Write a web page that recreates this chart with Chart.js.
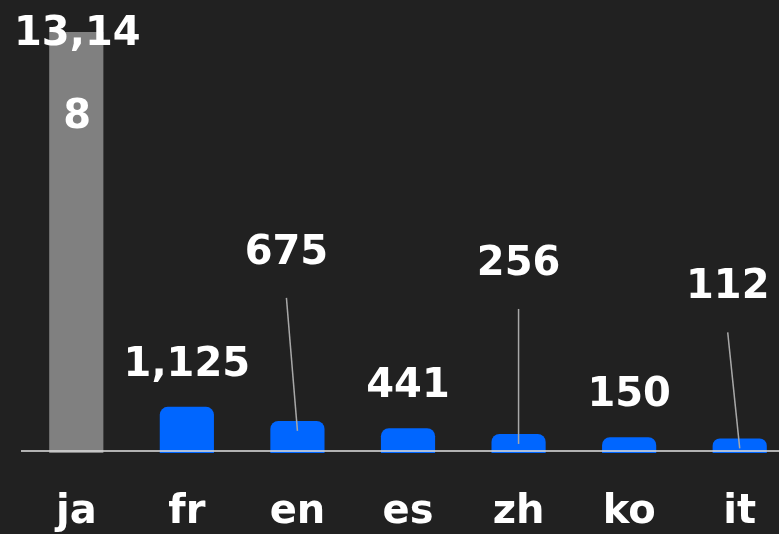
<!DOCTYPE html>
<html>
<head>
<meta charset="utf-8">
<script src="https://cdn.jsdelivr.net/npm/chart.js@4/dist/chart.umd.min.js"></script>
<style>
html,body{margin:0;padding:0;background:#212121;overflow:hidden;}
#wrap{position:relative;width:795px;height:534px;}
</style>
</head>
<body>
<div id="wrap"><canvas id="c"></canvas></div>
<script>
// ---- data ----
const categories = ['ja', 'fr', 'en', 'es', 'zh', 'ko', 'it'];
const values = [13148, 1125, 675, 441, 256, 150, 112];
const highlight = ['ja'];

// ---- label layout (styling, not data) ----
const labelLift = [-13, 31, 157, 31, 159, 31, 140];
const labelShiftX = [1, 0, -11, 0, 0, 0, -12];
const leaderLine = [false, false, true, false, true, false, true];

const FONT = 'bold 40px "DejaVu Sans", Verdana, sans-serif';

const labelPlugin = {
  id: 'valueLabels',
  afterDatasetsDraw(chart) {
    const ctx = chart.ctx;
    const area = chart.chartArea;
    // axis line drawn over bars
    ctx.save();
    ctx.strokeStyle = 'rgba(215,215,215,0.8)';
    ctx.lineWidth = 2;
    ctx.beginPath();
    ctx.moveTo(area.left, area.bottom - 2);
    ctx.lineTo(chart.width, area.bottom - 2);
    ctx.stroke();
    ctx.restore();

    const meta = chart.getDatasetMeta(0);
    ctx.save();
    ctx.font = FONT;
    ctx.fillStyle = '#ffffff';
    ctx.textAlign = 'center';
    ctx.textBaseline = 'alphabetic';
    meta.data.forEach((bar, i) => {
      const txt = values[i].toLocaleString('en-US');
      const x = bar.x + labelShiftX[i];
      const base = bar.y - labelLift[i];
      // char wrap
      const lines = [];
      let cur = '';
      for (const ch of txt) {
        if (ctx.measureText(cur + ch).width > 135 && cur) { lines.push(cur); cur = ch; }
        else cur += ch;
      }
      lines.push(cur);
      lines.forEach((ln, k) => ctx.fillText(ln, x, base + k * 83));
      if (leaderLine[i]) {
        ctx.strokeStyle = '#a8a8a8';
        ctx.lineWidth = 1.5;
        ctx.beginPath();
        ctx.moveTo(x, base + 34);
        ctx.lineTo(bar.x, bar.y + 10);
        ctx.stroke();
      }
    });
    ctx.restore();
  }
};

new Chart(document.getElementById('c'), {
  type: 'bar',
  data: {
    labels: categories,
    datasets: [{
      data: values,
      base: -355,
      backgroundColor: categories.map(c => highlight.includes(c) ? '#808080' : '#0066ff'),
      borderRadius: ctx => highlight.includes(categories[ctx.dataIndex]) ? 0 : 8,
      borderSkipped: 'start',
      categoryPercentage: 1,
      barPercentage: 0.49
    }]
  },
  options: {
    responsive: true,
    maintainAspectRatio: false,
    animation: false,
    layout: { padding: { left: 21, right: 0, top: 0, bottom: 0 } },
    plugins: { legend: { display: false }, tooltip: { enabled: false } },
    scales: {
      x: {
        grid: { display: false, drawTicks: false },
        border: { display: false },
        ticks: {
          color: '#ffffff',
          font: { family: '"DejaVu Sans", Verdana, sans-serif', size: 40, weight: 'bold' },
          padding: 36,
          maxRotation: 0,
          autoSkip: false
        },
        afterFit(scale) { scale.height = 81; }
      },
      y: {
        display: false,
        min: -355,
        max: 14174
      }
    }
  },
  plugins: [labelPlugin]
});
</script>
</body>
</html>
